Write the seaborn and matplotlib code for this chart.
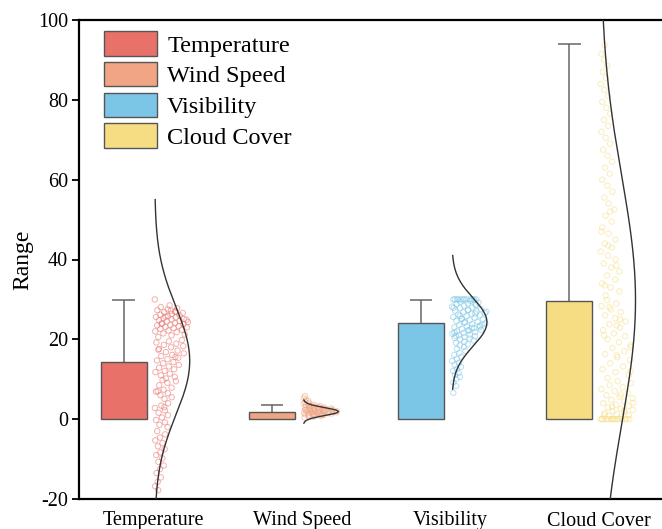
import numpy as np
import pandas as pd
import matplotlib
matplotlib.use("Agg")
import matplotlib.pyplot as plt
from matplotlib.patches import Patch
import seaborn as sns

# ---------------- data ----------------
categories = ["Temperature", "Wind Speed", "Visibility", "Cloud Cover"]
colors = ["#E8716A", "#F1A585", "#7BC6E6", "#F6DD83"]
bar_means = [14.4, 1.7, 24.1, 29.7]
err_tops = [29.9, 3.6, 29.9, 93.9]

# normal-fit curves (mean, sd, low, high)
curve_mean = [14.6, 1.9, 24.3, 29.8]
curve_sd = [13.5, 1.0, 6.0, 31.0]
curve_lo = [-25.0, -1.0, 7.5, -70.0]
curve_hi = [55.0, 4.8, 41.0, 130.0]

temperature = [
    30.0, 28.5, 28.1, 27.8, 27.5, 27.3, 27.0, 26.8, 26.6, 26.4, 26.2, 26.0, 25.8, 25.6, 25.5,
    25.3, 25.1, 25.0, 24.8, 24.6, 24.5, 24.3, 24.1, 24.0, 23.8, 23.6, 23.5, 23.3, 23.1, 23.0,
    22.8, 22.6, 22.4, 22.2, 22.0, 21.8, 21.5, 21.2, 21.0, 20.6, 26.9, 25.7, 24.9, 27.2, 23.9,
    19.8, 19.5, 19.2, 18.9, 18.6, 18.3, 18.0, 17.6, 17.2, 16.8, 16.5, 16.1, 15.8, 15.4, 15.0,
    14.7, 14.3, 14.0, 13.6, 13.2, 12.9, 12.5, 12.1, 11.8, 11.4, 11.0, 10.6, 10.2, 17.4, 15.6,
    9.8, 9.5, 9.1, 8.5, 7.9, 7.4, 6.9, 6.5, 6.0, 5.5, 5.1, 7.0,
    4.0, 3.4, 2.8, 2.2, 1.6, 1.0, 0.4, -0.2, -0.8, -1.4, -2.0, 3.0,
    -3.0, -3.8, -4.6, -5.3, -6.0, -6.8, -7.5, -8.3, -9.0, -9.8, -10.7, -11.6,
    -12.5, -13.5, -14.6, -15.7, -16.8, -17.8,
]
wind_speed = [
    0.4, 0.6, 0.7, 0.8, 0.9, 1.0, 1.0, 1.1, 1.2, 1.2, 1.3, 1.4, 1.4, 1.5, 1.5, 1.6, 1.6, 1.7,
    1.7, 1.8, 1.8, 1.9, 1.9, 2.0, 2.0, 2.1, 2.1, 2.2, 2.2, 2.3, 2.3, 2.4, 2.4, 2.5, 2.5, 2.6,
    2.6, 2.7, 2.8, 2.8, 2.9, 3.0, 3.0, 3.1, 3.2, 3.3, 3.4, 3.5, 3.6, 3.7, 3.9, 4.1, 4.3, 4.6,
    4.9, 5.3, 5.8, 1.3, 1.7, 2.0, 2.4, 1.1, 1.6, 2.2, 2.7, 1.9,
]
visibility = [
    30.0, 30.0, 30.0, 30.0, 30.0, 30.0, 30.0, 30.0, 30.0, 30.0, 30.0, 30.0,
    29.6, 29.4, 29.2, 29.0, 28.8, 28.6, 28.4, 28.2, 28.0, 27.8, 27.6, 27.4, 27.2, 27.0,
    26.8, 26.6, 26.4, 26.2, 26.0, 25.8, 25.6, 25.4, 25.2, 25.0, 24.8, 24.6, 24.4, 24.2,
    24.0, 23.8, 23.6, 23.4, 23.2, 23.0, 22.8, 22.6, 22.4, 22.2, 22.0, 21.8, 21.6, 21.4,
    21.2, 21.0, 20.8, 20.6, 20.4, 20.2, 20.0, 19.7, 19.4, 19.1, 18.8, 18.5, 27.9, 26.5,
    25.1, 23.7, 22.3, 20.9, 28.7, 24.3, 26.9, 22.9, 25.9, 23.1, 27.3, 21.7,
    18.1, 17.6, 17.1, 16.6, 16.1, 15.6, 15.1, 14.6, 14.1, 13.6, 13.1, 12.6, 12.1, 11.6,
    11.1, 10.6, 10.1, 9.2, 8.3, 6.6,
]
cloud_cover = [
    0.0, 0.0, 0.0, 0.0, 0.0, 0.0, 0.0, 0.0, 0.0, 0.0, 0.0, 0.0, 0.0, 0.0, 0.0,
    0.5, 0.8, 1.0, 1.2, 1.5, 1.8, 2.0, 2.3, 2.6, 3.0, 3.3, 3.6, 4.0, 4.4, 4.8,
    5.2, 5.6, 6.0, 6.5, 7.0, 7.5, 8.0, 8.5, 9.0, 9.5, 1.1, 2.1, 3.1, 4.1, 6.2,
    10.3, 11.0, 11.8, 12.5, 13.2, 14.0, 14.8, 15.5, 16.3, 17.0, 17.8, 18.5, 19.3, 20.0,
    20.8, 21.5, 22.3, 23.0, 23.8, 24.5, 25.3, 26.0, 26.8, 27.5, 28.3, 29.0, 29.8, 12.0,
    16.0, 21.0, 25.0, 28.0, 18.0, 23.5,
    31.0, 32.0, 33.0, 34.0, 35.0, 36.0, 37.0, 38.0, 39.0, 40.0, 41.0, 42.0, 43.0, 44.0,
    45.0, 46.5, 48.0, 49.5, 51.0, 52.5, 54.0, 33.5, 38.5, 43.5, 47.0, 52.0,
    55.5, 57.0, 58.5, 60.0, 61.5, 63.0, 64.5, 66.0, 67.5, 69.0, 70.5, 72.0, 73.5, 75.0,
    76.5, 78.0, 79.5, 81.0, 82.5, 84.0, 85.5, 87.0, 88.5, 90.0, 91.5, 93.7,
]
series = [temperature, wind_speed, visibility, cloud_cover]

# ---------------- layout constants ----------------
bar_offset = -0.2
bar_width = 0.31
cap_half = 0.075
curve_base = 0.01
curve_amp = 0.235
point_amp = 0.235

plt.rcParams["font.family"] = ["Liberation Serif", "DejaVu Serif"]
plt.rcParams["axes.unicode_minus"] = False

fig = plt.figure(figsize=(6.62, 5.29), dpi=100)
ax = fig.add_axes([79 / 662, 30 / 529, 594.4 / 662, 479 / 529])

# bars
df_bar = pd.DataFrame({
    "pos": np.arange(len(categories)) + bar_offset,
    "mean": bar_means,
    "top": err_tops,
    "cat": categories,
})
sns.barplot(data=df_bar, x="pos", y="mean", hue="cat", palette=colors, saturation=1,
            native_scale=True, width=bar_width, dodge=False, edgecolor="#555555",
            linewidth=1.0, legend=False, errorbar=None, ax=ax, zorder=2)

# error bars (upper only, with top cap)
ax.vlines(df_bar["pos"], df_bar["mean"], df_bar["top"], color="#666666", lw=1.1, zorder=1)
ax.hlines(df_bar["top"], df_bar["pos"] - cap_half, df_bar["pos"] + cap_half,
          color="#666666", lw=1.1, zorder=1)


def local_density(v):
    """Gaussian-kernel density at each point (Scott bandwidth), scaled to max 1."""
    bw = 1.06 * v.std() * len(v) ** (-0.2)
    d = np.exp(-0.5 * ((v[:, None] - v[None, :]) / bw) ** 2).sum(axis=1)
    return d / d.max()


# points and normal curves
golden = 0.6180339887
for i, (vals, col) in enumerate(zip(series, colors)):
    v = np.array(vals, dtype=float)
    m, s = curve_mean[i], curve_sd[i]
    dens = local_density(v)
    u = (np.arange(len(v)) * golden + 0.13 * i) % 1.0
    xs = i + curve_base + u * point_amp * dens
    sns.scatterplot(x=xs, y=v, marker="o", s=15, facecolors="none", edgecolor=col,
                    linewidth=0.7, alpha=0.55, ax=ax, zorder=3)
    yy = np.linspace(curve_lo[i], curve_hi[i], 400)
    xx = i + curve_base + curve_amp * np.exp(-0.5 * ((yy - m) / s) ** 2)
    ax.plot(xx, yy, color="#333333", lw=1.0, zorder=4)

ax.set_xlim(-0.5, 3.5)
ax.set_ylim(-20, 100)
ax.set_xticks(range(len(categories)))
ax.set_xticklabels(categories)
ax.set_yticks([-20, 0, 20, 40, 60, 80, 100])
ax.tick_params(axis="x", length=0, pad=9, labelsize=14.5)
ax.tick_params(axis="y", length=5, width=1.3, pad=3, labelsize=14.5, direction="out")
ax.set_xlabel("")
ax.set_ylabel("Range", fontsize=17, labelpad=3)
for sp in ax.spines.values():
    sp.set_linewidth(1.6)
    sp.set_color("black")

handles = [Patch(facecolor=c, edgecolor="#555555", linewidth=1.0) for c in colors]
ax.legend(handles, categories, loc="upper left", bbox_to_anchor=(0.042, 0.976),
          frameon=False, fontsize=17.5, handlelength=2.2, handleheight=1.15,
          labelspacing=0.22, handletextpad=0.4, borderpad=0, borderaxespad=0)

fig.savefig("out.png", dpi=100)
